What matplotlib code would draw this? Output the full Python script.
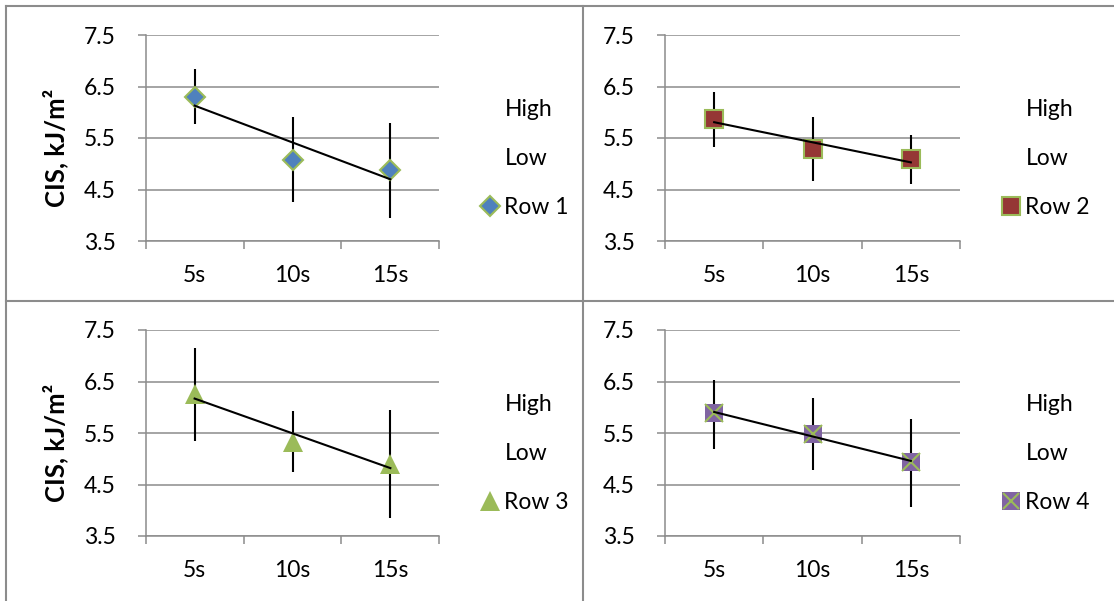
import numpy as np
import matplotlib
matplotlib.use('Agg')
import matplotlib.pyplot as plt
from matplotlib.lines import Line2D

plt.rcParams['font.family'] = ['Lato', 'DejaVu Sans']

categories = ['5s', '10s', '15s']

row1_close = [6.30, 5.07, 4.87]
row1_high = [6.84, 5.90, 5.80]
row1_low = [5.78, 4.25, 3.94]

row2_close = [5.87, 5.29, 5.09]
row2_high = [6.39, 5.90, 5.56]
row2_low = [5.33, 4.67, 4.61]

row3_close = [6.25, 5.33, 4.90]
row3_high = [7.16, 5.93, 5.95]
row3_low = [5.35, 4.74, 3.84]

row4_close = [5.88, 5.49, 4.93]
row4_high = [6.53, 6.17, 5.77]
row4_low = [5.18, 4.78, 4.07]

yticks = [3.5, 4.5, 5.5, 6.5, 7.5]

GRAY = '#8c8c8c'
GREEN = '#9bbb59'
FS = 16.5

W, H = 1114, 601
fig = plt.figure(figsize=(W / 100, H / 100), dpi=100)


def px_axes(left, right, top, bottom):
    return fig.add_axes([left / W, 1 - bottom / H, (right - left) / W, (bottom - top) / H])


def draw_panel(ax, close, high, low, name, style, ylabel=False):
    x = np.arange(1, len(categories) + 1)
    ax.vlines(x, low, high, color='black', lw=1.5, zorder=3)
    if style == 'diamond':
        ax.plot(x, close, ls='none', marker='D', ms=10.5, mfc='#4f81bd', mec=GREEN, mew=1.5, zorder=4)
        handle = Line2D([], [], ls='none', marker='D', ms=10, mfc='#4f81bd', mec=GREEN, mew=1.5)
    elif style == 'square':
        ax.plot(x, close, ls='none', marker='s', ms=13, mfc='#953735', mec=GREEN, mew=1.5, zorder=4)
        handle = Line2D([], [], ls='none', marker='s', ms=12.5, mfc='#953735', mec=GREEN, mew=1.5)
    elif style == 'triangle':
        ax.plot(x, close, ls='none', marker='^', ms=14.5, mfc=GREEN, mec=GREEN, mew=0, zorder=4)
        handle = Line2D([], [], ls='none', marker='^', ms=14, mfc=GREEN, mec=GREEN, mew=0)
    else:
        ax.plot(x, close, ls='none', marker='s', ms=13.5, mfc='#8064a2', mec='#8064a2', mew=0, zorder=4)
        ax.plot(x, close, ls='none', marker='x', ms=12.5, mec=GREEN, mew=1.5, zorder=4)
        h1 = Line2D([], [], ls='none', marker='s', ms=13, mfc='#8064a2', mec='#8064a2', mew=0)
        h2 = Line2D([], [], ls='none', marker='x', ms=12, mec=GREEN, mew=1.5)
        handle = (h1, h2)

    # linear trendline through the close values
    k, b = np.polyfit(x, close, 1)
    ax.plot(x[[0, -1]], k * x[[0, -1]] + b, color='black', lw=1.5, zorder=5)

    ax.set_xlim(0.5, len(categories) + 0.5)
    ax.set_ylim(3.5, 7.5)
    ax.set_yticks(yticks)
    ax.set_yticklabels([f'{v:.1f}' for v in yticks], fontsize=FS)
    ax.set_xticks(np.arange(0.5, len(categories) + 1))
    ax.set_xticklabels([])
    ax.set_xticks(x, minor=True)
    ax.set_xticklabels(categories, minor=True, fontsize=FS)
    ax.tick_params(axis='both', which='major', length=5.8, width=1.1, color=GRAY)
    ax.tick_params(axis='y', pad=16)
    ax.tick_params(axis='x', which='minor', length=0, pad=17)
    ax.grid(axis='y', color=GRAY, lw=1.1, zorder=0)
    ax.set_axisbelow(True)
    for s in ['top', 'right']:
        ax.spines[s].set_visible(False)
    for s in ['left', 'bottom']:
        ax.spines[s].set_color(GRAY)
        ax.spines[s].set_linewidth(1.1)

    if ylabel:
        ax.set_ylabel('CIS, kJ/m²', fontsize=18.5, fontweight='bold', va='center')
        ax.yaxis.set_label_coords(-0.307, 0.451)

    blank = Line2D([], [], ls='none')
    ax.legend([blank, blank, handle], ['High', 'Low', name], loc='upper left',
              bbox_to_anchor=(1.144, 0.69), frameon=False, fontsize=FS,
              borderpad=0, borderaxespad=0, handlelength=0.75, handletextpad=0.25,
              labelspacing=1.22)


ax1 = px_axes(145.7, 439.3, 35, 241)
ax2 = px_axes(665, 960, 35, 241)
ax3 = px_axes(145.7, 439.3, 330, 536)
ax4 = px_axes(665, 960, 330, 536)

draw_panel(ax1, row1_close, row1_high, row1_low, 'Row 1', 'diamond', ylabel=True)
draw_panel(ax2, row2_close, row2_high, row2_low, 'Row 2', 'square')
draw_panel(ax3, row3_close, row3_high, row3_low, 'Row 3', 'triangle', ylabel=True)
draw_panel(ax4, row4_close, row4_high, row4_low, 'Row 4', 'cross')

# outer frame and dividers between the four charts
for xs, ys in [((6 / W, 1), (1 - 6 / H, 1 - 6 / H)),
               ((6 / W, 6 / W), (1 - 6 / H, 0)),
               ((583 / W, 583 / W), (1 - 6 / H, 0)),
               ((6 / W, 1), (1 - 301 / H, 1 - 301 / H))]:
    fig.add_artist(Line2D(xs, ys, color=GRAY, lw=1.5))

fig.savefig('out.png', dpi=100)
